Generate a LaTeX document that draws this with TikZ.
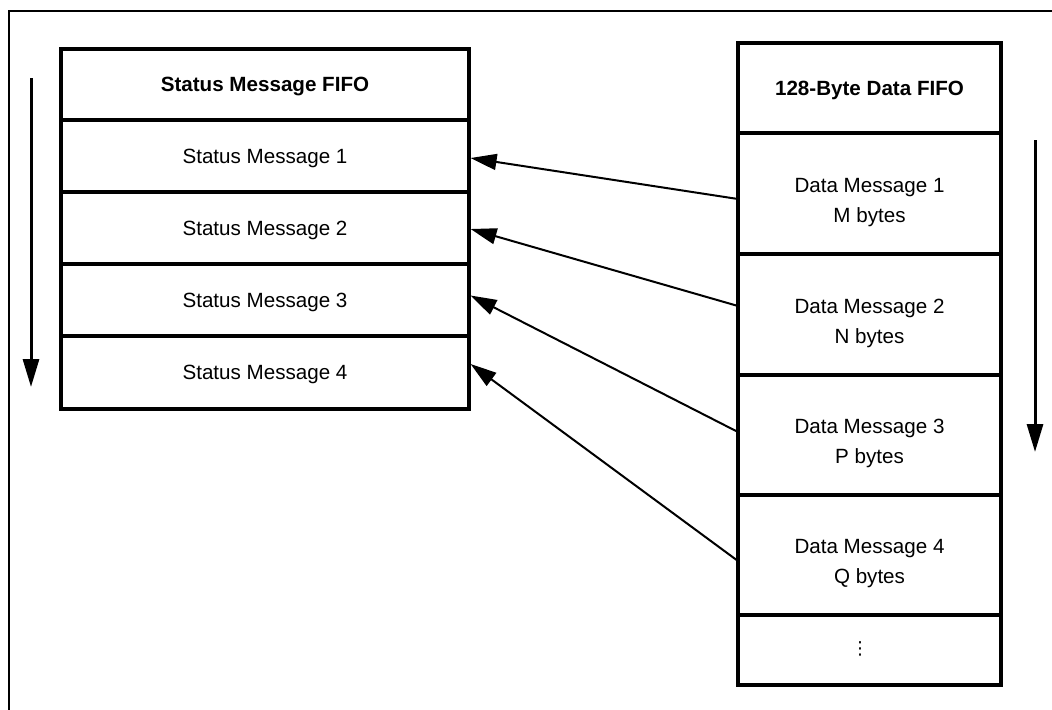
\documentclass[tikz,border=0pt]{standalone}
\usepackage{fontspec}
\setmainfont{Liberation Sans}
\newfontfamily\dotsfont{DejaVu Sans}
\usetikzlibrary{positioning,arrows.meta}
\tikzset{
    fifo cell/.style={draw, rectangle, line width=1.6pt, inner sep=0pt, outer sep=0pt, align=center, text depth=0pt, font=\fontsize{10.3}{15}\selectfont},
    status cell/.style={fifo cell, minimum width=204pt, minimum height=36pt},
    data cell/.style={fifo cell, minimum width=131.5pt, minimum height=60.5pt},
    data text/.style={text height=28.5pt, text depth=0pt},
    head cell/.style={font=\fontsize{10.3}{15}\selectfont\bfseries, text depth=0pt},
    msg arrow/.style={-{Triangle[length=13pt,width=8pt]}, line width=1pt},
    flow arrow/.style={-{Triangle[length=14pt,width=8pt]}, line width=1.5pt}
}

\begin{document}
\begin{tikzpicture}[x=0.5pt, y=-0.5pt]
    \clip (0,0) rectangle (1052,709);
    % outer frame
    \draw[line width=1.2pt] (9,11) rectangle (1075,735);

    % status message FIFO
    \node[status cell, head cell, minimum height=35.5pt] (s0) at (265,84.5) {Status Message FIFO};
    \node[status cell, below=0pt of s0] (s1) {Status Message 1};
    \node[status cell, below=0pt of s1] (s2) {Status Message 2};
    \node[status cell, below=0pt of s2] (s3) {Status Message 3};
    \node[status cell, minimum height=36.5pt, below=0pt of s3] (s4) {Status Message 4};

    % data FIFO
    \node[data cell, head cell, minimum height=45pt] (d0) at (869.5,88) {128-Byte Data FIFO};
    \node[data cell, data text, below=0pt of d0] (d1) {Data Message 1\\M bytes};
    \node[data cell, data text, below=0pt of d1] (d2) {Data Message 2\\N bytes};
    \node[data cell, data text, minimum height=60pt, below=0pt of d2] (d3) {Data Message 3\\P bytes};
    \node[data cell, data text, minimum height=60pt, below=0pt of d3] (d4) {Data Message 4\\Q bytes};
    \node[data cell, minimum height=35pt, below=0pt of d4] (d5) {};
    \node[inner sep=0pt, font=\dotsfont\fontsize{9}{9}\selectfont] (dots) at (860,649) {⋮};

    % read order
    \coordinate (sTop) at (31,78);
    \coordinate (sEnd) at (31,387);
    \coordinate (dTop) at (1035,140);
    \coordinate (dEnd) at (1035,452);
    \draw[flow arrow] (sTop) -- (sEnd);
    \draw[flow arrow] (dTop) -- (dEnd);

    % data message -> status message
    \draw[msg arrow] ([yshift=-2.75pt]d1.west) -- ([xshift=0.8pt, yshift=-1pt]s1.east);
    \draw[msg arrow] ([yshift=4.25pt]d2.west) -- ([xshift=0.8pt, yshift=-0.5pt]s2.east);
    \draw[msg arrow] ([yshift=1.5pt]d3.west) -- ([xshift=0.8pt, yshift=2.25pt]s3.east);
    \draw[msg arrow] ([yshift=-3pt]d4.west) -- ([xshift=0.8pt, yshift=4.25pt]s4.east);
\end{tikzpicture}
\end{document}
